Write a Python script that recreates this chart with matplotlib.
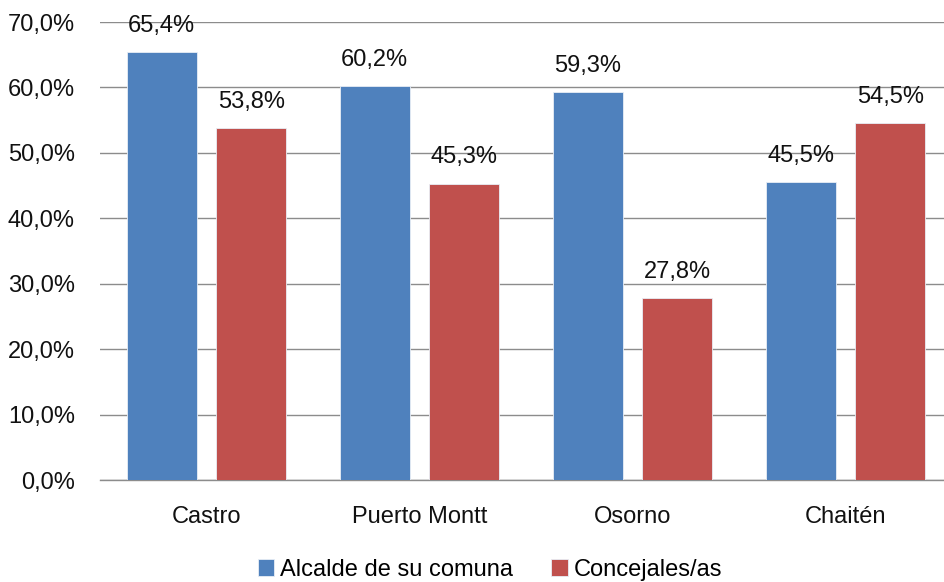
import matplotlib.pyplot as plt
import matplotlib
import numpy as np
from matplotlib import font_manager

names = {f.name for f in font_manager.fontManager.ttflist}
family = "Liberation Sans Narrow" if "Liberation Sans Narrow" in names else "Liberation Sans"
matplotlib.rcParams.update({
    "font.family": [family, "DejaVu Sans"],
    "font.size": 17,
})

categories = ["Castro", "Puerto Montt", "Osorno", "Chaitén"]
alcalde = [65.4, 60.2, 59.3, 45.5]
concejales = [53.8, 45.3, 27.8, 54.5]
series_names = ["Alcalde de su comuna", "Concejales/as"]
colors = ["#4F81BD", "#C0504D"]

fig = plt.figure(figsize=(9.44, 5.82), dpi=100)
ax = fig.add_axes([100 / 944, 1 - 480 / 582, 852 / 944, 458 / 582])

x = np.arange(len(categories))
w = 0.33
gap = 0.09
off = (w + gap) / 2

for vals, dx, c, lab in [(alcalde, -off, colors[0], series_names[0]),
                         (concejales, off, colors[1], series_names[1])]:
    bars = ax.bar(x + dx, vals, width=w, color=c, edgecolor="#e8eef6",
                  linewidth=0.6, label=lab, zorder=3)
    for b, v in zip(bars, vals):
        ax.annotate(f"{v:.1f}%".replace(".", ","),
                    xy=(b.get_x() + b.get_width() / 2, v),
                    xytext=(0, 11), textcoords="offset points",
                    ha="center", va="bottom", fontsize=17, color="#111111")

ax.set_xlim(-0.5, len(categories) - 0.5)
ax.set_ylim(0, 70)
ax.set_yticks(np.arange(0, 71, 10))
ax.set_yticklabels([f"{t:.1f}%".replace(".", ",") for t in np.arange(0, 71, 10)])
ax.set_xticks(x)
ax.set_xticklabels(categories)
ax.tick_params(axis="both", length=0, labelsize=17, colors="#111111")
ax.tick_params(axis="y", pad=18)
ax.tick_params(axis="x", pad=19)
ax.grid(axis="y", color="#8c8c8c", linewidth=1.0, zorder=0)
for s in ["top", "right", "left"]:
    ax.spines[s].set_visible(False)
ax.spines["bottom"].set_color("#8c8c8c")
ax.spines["bottom"].set_linewidth(1.0)

fig.legend(loc="center", bbox_to_anchor=(490 / 944, 12 / 582), ncol=2,
           frameon=False, fontsize=17, handlelength=0.7, handleheight=0.7,
           handletextpad=0.25, columnspacing=1.6)

fig.savefig("out.png", dpi=100)
